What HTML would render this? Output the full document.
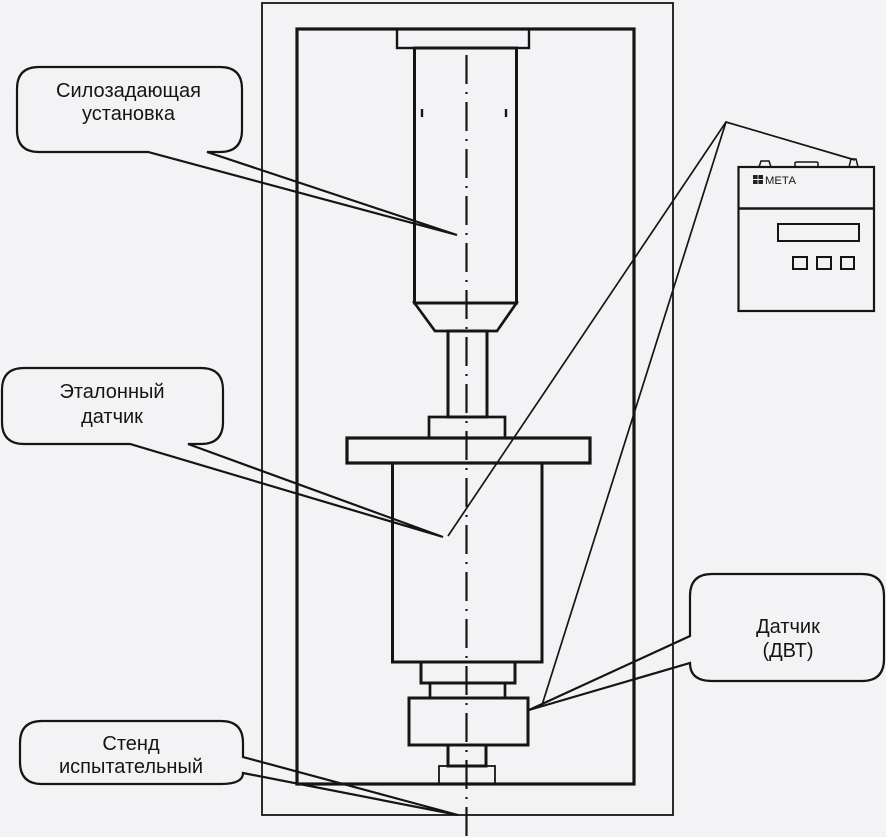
<!DOCTYPE html>
<html>
<head>
<meta charset="utf-8">
<style>
html,body{margin:0;padding:0;background:#f3f3f5;}
svg{display:block;}
text{font-family:"Liberation Sans","DejaVu Sans",sans-serif;fill:#151515;}
</style>
</head>
<body>
<svg width="886" height="837" viewBox="0 0 886 837" xmlns="http://www.w3.org/2000/svg">
<rect x="0" y="0" width="886" height="837" fill="#f3f3f5"/>
<g fill="none" stroke="#151515" stroke-linejoin="miter">
  <!-- outer frame -->
  <rect x="262" y="3" width="411" height="812" stroke-width="1.8"/>
  <!-- inner frame -->
  <rect x="297" y="29" width="337" height="755" stroke-width="3.2"/>
  <!-- top plate -->
  <rect x="397" y="29" width="132" height="19" stroke-width="2.4"/>
  <!-- upper cylinder -->
  <rect x="414.5" y="48" width="102" height="255" stroke-width="3"/>
  <line x1="422" y1="109" x2="422" y2="117" stroke-width="2.4"/>
  <line x1="506" y1="109" x2="506" y2="117" stroke-width="2.4"/>
  <!-- trapezoid -->
  <polygon points="414.5,303 516.5,303 497,331 435,331" stroke-width="2.7"/>
  <!-- rod -->
  <rect x="448" y="331" width="39" height="86" stroke-width="3"/>
  <!-- small plate -->
  <rect x="429" y="417" width="76" height="21" stroke-width="2.7"/>
  <!-- big plate -->
  <rect x="347" y="438" width="243" height="25" stroke-width="3.2"/>
  <!-- big cylinder -->
  <rect x="392.5" y="463" width="149.5" height="199" stroke-width="3"/>
  <!-- rings -->
  <rect x="421" y="662" width="94" height="21" stroke-width="3"/>
  <rect x="430" y="683" width="75" height="15" stroke-width="2.7"/>
  <!-- DVT box -->
  <rect x="409" y="698" width="119" height="47" stroke-width="3"/>
  <!-- stub -->
  <rect x="448" y="745" width="38" height="21" stroke-width="3"/>
  <!-- base block -->
  <rect x="439" y="766" width="56" height="18" stroke-width="1.8"/>

  <!-- centerline -->
  <line x1="466.5" y1="55" x2="466.5" y2="837" stroke-width="2.2" stroke-dasharray="29 8 2 8"/>

  <!-- meter wires -->
  <polyline points="855,160 726,122 448,536" stroke-width="1.7"/>
  <line x1="726" y1="122" x2="542" y2="705" stroke-width="1.7"/>

  <!-- callout 1 -->
  <path d="M39,67 H220 Q242,67 242,89 V130 Q242,152 220,152 H207 L457,235 L148,152 H39 Q17,152 17,130 V89 Q17,67 39,67 Z" stroke-width="2.2"/>
  <!-- callout 2 -->
  <path d="M24,368 H201 Q223,368 223,390 V422 Q223,444 201,444 H188 L443,537 L130,444 H24 Q2,444 2,422 V390 Q2,368 24,368 Z" stroke-width="2.2"/>
  <!-- callout 3 -->
  <path d="M712,574 H862 Q884,574 884,596 V659 Q884,681 862,681 H712 Q690,681 690,663 L529,710 L690,636 V596 Q690,574 712,574 Z" stroke-width="2.2"/>
  <!-- callout 4 -->
  <path d="M42,721 H221 Q243,721 243,743 V757 L458,815 L243,773 Q243,784 221,784 H42 Q20,784 20,762 V743 Q20,721 42,721 Z" stroke-width="2.2"/>

  <!-- meter device -->
  <rect x="738.5" y="167" width="135.5" height="144" stroke-width="2.2"/>
  <line x1="738.5" y1="208.5" x2="874" y2="208.5" stroke-width="2.6"/>
  <rect x="778" y="224" width="81" height="17" stroke-width="2"/>
  <rect x="793" y="257" width="14" height="12" stroke-width="2"/>
  <rect x="817" y="257" width="14" height="12" stroke-width="2"/>
  <rect x="841" y="257" width="13" height="12" stroke-width="2"/>
  <polygon points="759,167 761,161 769,161 771,167" stroke-width="1.5"/>
  <path d="M795,167 V163 Q795,162 797,162 H816 Q818,162 818,163 V167" stroke-width="1.5"/>
  <polygon points="849,167 851,159 856,159 858,167" stroke-width="1.5"/>
</g>
<!-- logo -->
<rect x="753" y="175" width="10" height="9" fill="#222"/>
<line x1="753" y1="179.5" x2="763" y2="179.5" stroke="#f3f3f5" stroke-width="1"/>
<line x1="758" y1="175" x2="758" y2="184" stroke="#f3f3f5" stroke-width="0.8"/>
<text x="765" y="184" font-size="11" textLength="31" lengthAdjust="spacingAndGlyphs">МЕТА</text>

<!-- labels -->
<g font-size="20" text-anchor="middle">
  <text x="128.5" y="97">Силозадающая</text>
  <text x="128.5" y="120">установка</text>
  <text x="112" y="398">Эталонный</text>
  <text x="112" y="423">датчик</text>
  <text x="788" y="633">Датчик</text>
  <text x="788" y="657">(ДВТ)</text>
  <text x="131" y="750">Стенд</text>
  <text x="131" y="773">испытательный</text>
</g>
</svg>
</body>
</html>
